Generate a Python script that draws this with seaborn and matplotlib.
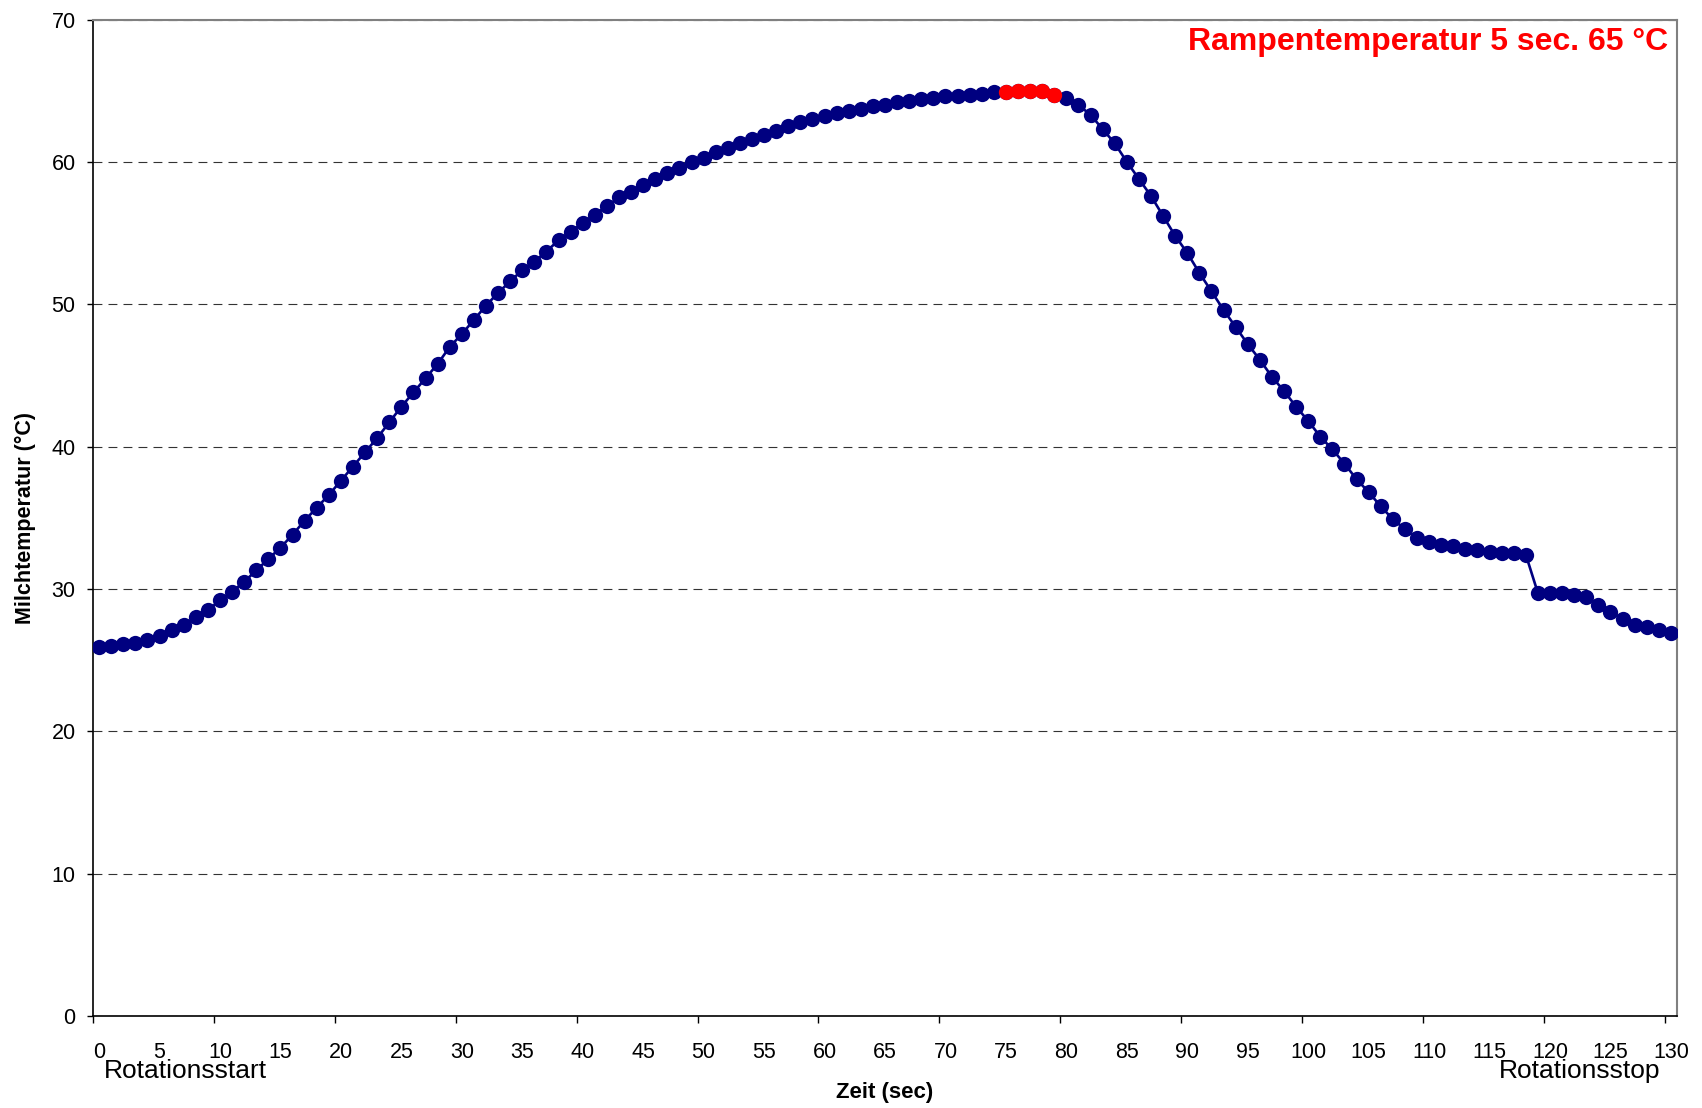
import numpy as np
import pandas as pd
import matplotlib
matplotlib.use("Agg")
import matplotlib.pyplot as plt
import matplotlib.transforms as mtransforms
import seaborn as sns

# ---------------- data ----------------
time_s = list(range(0, 131))
temps = [
    25.9, 26.0, 26.1, 26.2, 26.4, 26.7, 27.1, 27.5, 28.0, 28.5,
    29.2, 29.8, 30.5, 31.3, 32.1, 32.9, 33.8, 34.8, 35.7, 36.6,
    37.6, 38.6, 39.6, 40.6, 41.7, 42.8, 43.8, 44.8, 45.8, 47.0,
    47.9, 48.9, 49.9, 50.8, 51.6, 52.4, 53.0, 53.7, 54.5, 55.1,
    55.7, 56.3, 56.9, 57.5, 57.9, 58.4, 58.8, 59.2, 59.6, 60.0,
    60.3, 60.7, 61.0, 61.3, 61.6, 61.9, 62.2, 62.5, 62.8, 63.0,
    63.2, 63.4, 63.6, 63.7, 63.9, 64.0, 64.2, 64.3, 64.4, 64.5,
    64.6, 64.6, 64.7, 64.8, 64.9, 64.9, 65.0, 65.0, 65.0, 64.7,
    64.5, 64.0, 63.3, 62.3, 61.3, 60.0, 58.8, 57.6, 56.2, 54.8,
    53.6, 52.2, 50.9, 49.6, 48.4, 47.2, 46.1, 44.9, 43.9, 42.8,
    41.8, 40.7, 39.8, 38.8, 37.7, 36.8, 35.8, 34.9, 34.2, 33.6,
    33.3, 33.1, 33.0, 32.8, 32.7, 32.6, 32.5, 32.5, 32.4, 29.7,
    29.7, 29.7, 29.6, 29.4, 28.9, 28.4, 27.9, 27.5, 27.3, 27.1,
    26.9,
]
ramp_idx = [75, 76, 77, 78, 79]
x_tick_labels = [str(v) for v in range(0, 131, 5)]
y_ticks = [0, 10, 20, 30, 40, 50, 60, 70]

title_text = "Rampentemperatur 5 sec. 65 °C"
x_label = "Zeit (sec)"
y_label = "Milchtemperatur (°C)"
start_label = "Rotationsstart"
stop_label = "Rotationsstop"

df = pd.DataFrame({"t": time_s, "temp": temps})
df_ramp = df.iloc[ramp_idx]

# ---------------- style ----------------
sns.set_theme(style="white")
plt.rcParams["font.family"] = ["Liberation Sans", "DejaVu Sans"]
plt.rcParams["text.color"] = "#000000"
plt.rcParams["axes.labelcolor"] = "#000000"
plt.rcParams["xtick.color"] = "#000000"
plt.rcParams["ytick.color"] = "#000000"

fig = plt.figure(figsize=(17.02, 11.08), dpi=100)
ax = fig.add_axes([93 / 1702, 1 - 1016 / 1108, 1584 / 1702, (1016 - 19.5) / 1108])

navy = "#000080"
sns.lineplot(data=df, x="t", y="temp", ax=ax, color=navy, linewidth=1.9,
             marker="o", markersize=11, markeredgewidth=0, zorder=3)
sns.scatterplot(data=df_ramp, x="t", y="temp", ax=ax, color="#ff0000",
                s=121, linewidth=0, zorder=4)

ax.set_xlim(-0.5, 130.5)
ax.set_ylim(0, 70)

# gridlines
ax.set_yticks(y_ticks)
ax.yaxis.grid(True, color="#333333", linewidth=0.8, linestyle=(0, (8, 5.5)))
ax.xaxis.grid(False)
ax.set_axisbelow(True)

# x ticks: marks between categories, labels at categories
ax.set_xticks(np.arange(-0.5, 130, 10))
ax.set_xticklabels([])
ax.set_xticks(np.arange(0, 131, 5), x_tick_labels, minor=True)
ax.tick_params(axis="x", which="major", direction="out", length=5,
               width=1, color="#000000", bottom=True)
ax.tick_params(axis="x", which="minor", length=0, pad=19,
               labelsize=15.5, labelcolor="#000000")
ax.tick_params(axis="y", which="major", direction="out", length=4.5,
               width=1, color="#000000", left=True, pad=8,
               labelsize=15.5, labelcolor="#000000")

for side in ["left", "bottom"]:
    ax.spines[side].set_color("#000000")
    ax.spines[side].set_linewidth(1.2)
for side in ["top", "right"]:
    ax.spines[side].set_color("#808080")
    ax.spines[side].set_linewidth(1.5)

ax.set_xlabel(x_label, fontsize=16, fontweight="bold", va="center",
              color="#000000")
ax.xaxis.set_label_coords(0.5, -0.0763)
ax.set_ylabel(y_label, fontsize=15.5, fontweight="bold", va="center",
              color="#000000")
ax.yaxis.set_label_coords(-0.0429, 0.5)

ax.text(0.9943, 0.9925, title_text, transform=ax.transAxes, ha="right",
        va="top", color="#ff0000", fontsize=23, fontweight="bold")

trans = mtransforms.blended_transform_factory(ax.transData, ax.transAxes)
ax.text(0.4, -0.0622, start_label, transform=trans, ha="left",
        va="baseline", fontsize=19, color="#000000")
ax.text(115.8, -0.0622, stop_label, transform=trans, ha="left",
        va="baseline", fontsize=19, color="#000000")

fig.savefig("out.png", dpi=100, facecolor="white")
